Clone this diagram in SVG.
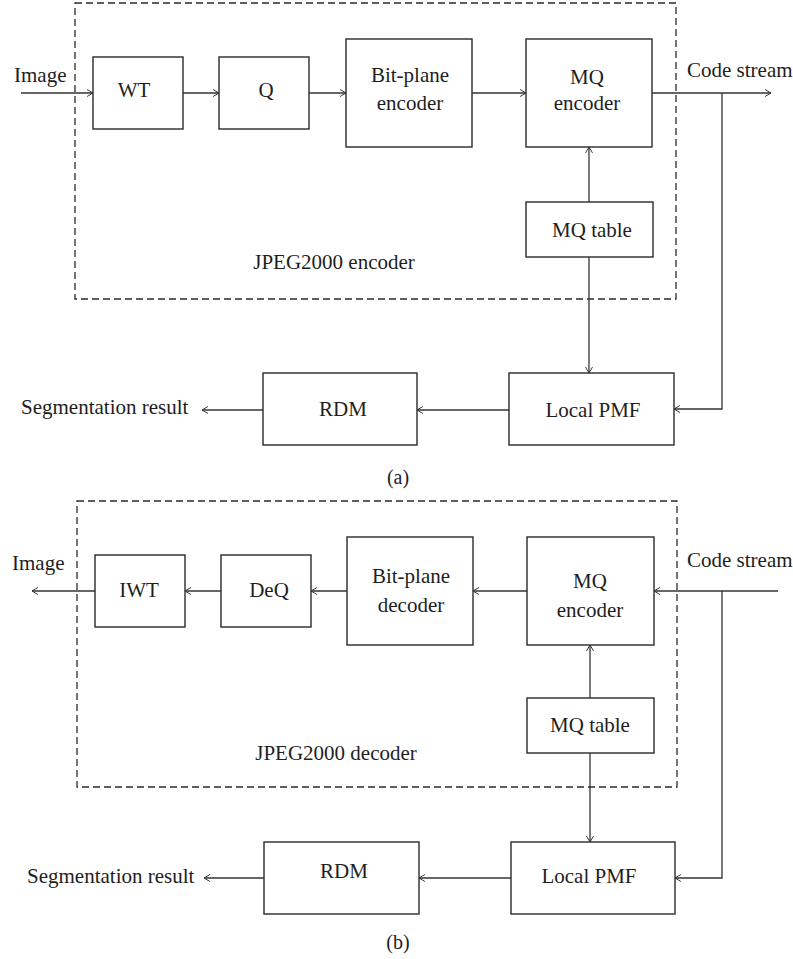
<svg xmlns="http://www.w3.org/2000/svg" width="793" height="959" viewBox="0 0 793 959">
  <style>
    .box { fill: #fff; stroke: #2a2a2a; stroke-width: 1.4; }
    .frame { fill: none; stroke: #2a2a2a; stroke-width: 1.3; stroke-dasharray: 7 4; }
    .wire { fill: none; stroke: #333; stroke-width: 1.3; }
    .arrow { marker-end: url(#head); }
    text { font-family: "Liberation Serif", "DejaVu Serif", "Times New Roman", serif; font-size: 21px; fill: #1e1e1e; }
    .c { text-anchor: middle; }
  </style>
  <defs>
    <marker id="head" viewBox="0 0 10 12" refX="9.5" refY="6" markerWidth="7" markerHeight="11" markerUnits="userSpaceOnUse" orient="auto">
      <path d="M1,1 L9.5,6 L1,11" fill="none" stroke="#333" stroke-width="1.4"/>
    </marker>
  </defs>

  <!-- (a) encoder side -->
  <g id="encoder-frame">
    <rect class="frame" x="75" y="3" width="601" height="296"/>
    <text class="c" x="334" y="269">JPEG2000 encoder</text>
  </g>
  <g id="a-image"><text x="14" y="82">Image</text></g>
  <g id="a-code-stream"><text x="687" y="77">Code stream</text></g>
  <g id="a-wt">
    <rect class="box" x="93" y="57" width="90" height="72"/>
    <text class="c" x="134" y="97">WT</text>
  </g>
  <g id="a-q">
    <rect class="box" x="219" y="57" width="90" height="72"/>
    <text class="c" x="266" y="97">Q</text>
  </g>
  <g id="a-bitplane">
    <rect class="box" x="346" y="39" width="126" height="108"/>
    <text class="c" x="410" y="82">Bit-plane</text>
    <text class="c" x="410" y="110">encoder</text>
  </g>
  <g id="a-mq-encoder">
    <rect class="box" x="526" y="39" width="126" height="108"/>
    <text class="c" x="587" y="84">MQ</text>
    <text class="c" x="587" y="110">encoder</text>
  </g>
  <g id="a-mq-table">
    <rect class="box" x="526" y="202" width="127" height="55"/>
    <text class="c" x="592" y="237">MQ table</text>
  </g>
  <g id="a-local-pmf">
    <rect class="box" x="509" y="373" width="165" height="72"/>
    <text class="c" x="593" y="417">Local PMF</text>
  </g>
  <g id="a-rdm">
    <rect class="box" x="263" y="373" width="154" height="72"/>
    <text class="c" x="343" y="416">RDM</text>
  </g>
  <g id="a-result"><text x="21" y="414">Segmentation result</text></g>
  <g id="a-caption"><text class="c" x="398" y="484" style="font-size:20px">(a)</text></g>

  <!-- (b) decoder side -->
  <g id="decoder-frame">
    <rect class="frame" x="77" y="501" width="600" height="286"/>
    <text class="c" x="336" y="760">JPEG2000 decoder</text>
  </g>
  <g id="b-image"><text x="12" y="570">Image</text></g>
  <g id="b-code-stream"><text x="687" y="567">Code stream</text></g>
  <g id="b-iwt">
    <rect class="box" x="95" y="555" width="90" height="72"/>
    <text class="c" x="139" y="597">IWT</text>
  </g>
  <g id="b-deq">
    <rect class="box" x="221" y="555" width="90" height="72"/>
    <text class="c" x="269" y="597">DeQ</text>
  </g>
  <g id="b-bitplane">
    <rect class="box" x="347" y="537" width="126" height="108"/>
    <text class="c" x="411" y="583">Bit-plane</text>
    <text class="c" x="411" y="612">decoder</text>
  </g>
  <g id="b-mq-encoder">
    <rect class="box" x="527" y="537" width="127" height="108"/>
    <text class="c" x="590" y="588">MQ</text>
    <text class="c" x="590" y="617">encoder</text>
  </g>
  <g id="b-mq-table">
    <rect class="box" x="527" y="698" width="127" height="55"/>
    <text class="c" x="590" y="732">MQ table</text>
  </g>
  <g id="b-local-pmf">
    <rect class="box" x="511" y="842" width="164" height="72"/>
    <text class="c" x="589" y="883">Local PMF</text>
  </g>
  <g id="b-rdm">
    <rect class="box" x="264" y="842" width="155" height="72"/>
    <text class="c" x="344" y="878">RDM</text>
  </g>
  <g id="b-result"><text x="27" y="883">Segmentation result</text></g>
  <g id="b-caption"><text class="c" x="398" y="949" style="font-size:20px">(b)</text></g>

  <g id="connectors">
    <!-- (a) -->
    <line class="wire arrow" x1="21" y1="93" x2="93" y2="93"/>
    <line class="wire arrow" x1="183" y1="93" x2="219" y2="93"/>
    <line class="wire arrow" x1="309" y1="93" x2="346" y2="93"/>
    <line class="wire arrow" x1="472" y1="93" x2="526" y2="93"/>
    <line class="wire arrow" x1="652" y1="93" x2="771" y2="93"/>
    <polyline class="wire arrow" points="722,93 722,409 674,409"/>
    <line class="wire arrow" x1="589" y1="202" x2="589" y2="147"/>
    <line class="wire arrow" x1="589" y1="257" x2="589" y2="373"/>
    <line class="wire arrow" x1="509" y1="410" x2="417" y2="410"/>
    <line class="wire arrow" x1="263" y1="410" x2="202" y2="410"/>
    <!-- (b) -->
    <line class="wire arrow" x1="95" y1="591" x2="32" y2="591"/>
    <line class="wire arrow" x1="221" y1="591" x2="185" y2="591"/>
    <line class="wire arrow" x1="347" y1="591" x2="311" y2="591"/>
    <line class="wire arrow" x1="527" y1="591" x2="473" y2="591"/>
    <line class="wire arrow" x1="778" y1="591" x2="654" y2="591"/>
    <polyline class="wire arrow" points="722,591 722,878 675,878"/>
    <line class="wire arrow" x1="590" y1="698" x2="590" y2="645"/>
    <line class="wire arrow" x1="590" y1="753" x2="590" y2="842"/>
    <line class="wire arrow" x1="511" y1="878" x2="419" y2="878"/>
    <line class="wire arrow" x1="264" y1="878" x2="204" y2="878"/>
  </g>
</svg>
